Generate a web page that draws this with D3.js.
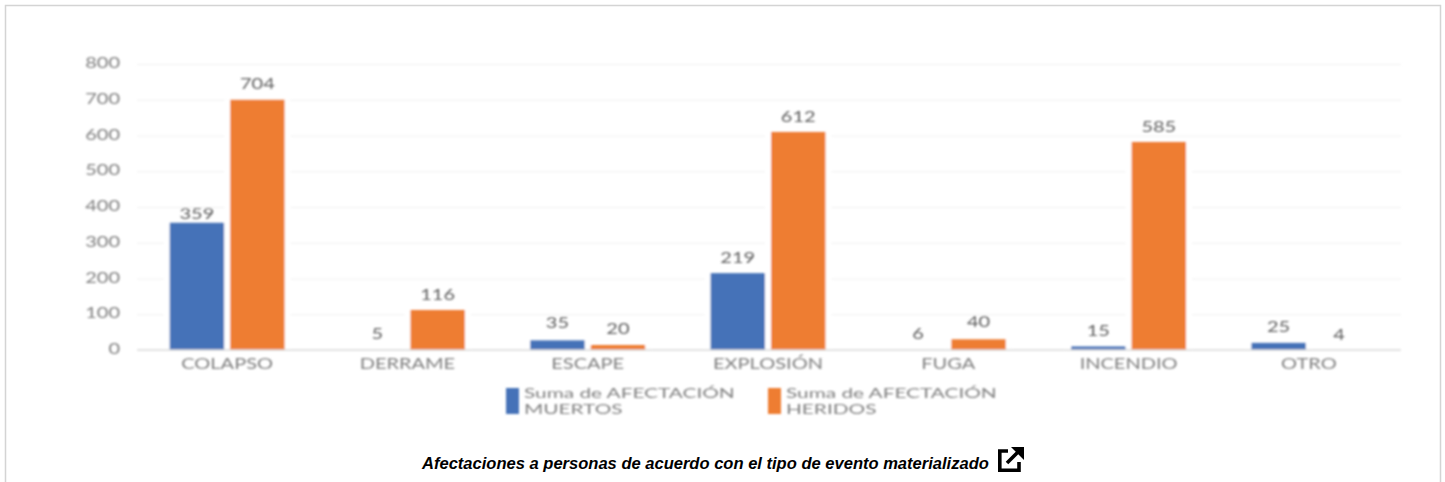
<!DOCTYPE html>
<html>
<head>
<meta charset="utf-8">
<script src="https://cdnjs.cloudflare.com/ajax/libs/d3/7.8.5/d3.min.js"></script>
<style>
  html, body { margin: 0; padding: 0; background: #fff; overflow: hidden; }
  svg { display: block; }
  .chart text { font-family: Lato, "Open Sans", sans-serif; }
  .caption { font: italic bold 16.55px "Liberation Sans", Arial, sans-serif; fill: #000; }
</style>
</head>
<body>
<svg class="frame" width="1445" height="482"></svg>
<script>
const categories = ["COLAPSO", "DERRAME", "ESCAPE", "EXPLOSIÓN", "FUGA", "INCENDIO", "OTRO"];
// printed labels
const muertos = [359, 5, 35, 219, 6, 15, 25];
const heridos = [704, 116, 20, 612, 40, 585, 4];
// bar heights as drawn in the picture, which sit a little under the labels
const muertosBars = [356, 0, 27, 215, 0, 10, 20];
const heridosBars = [700, 112, 14, 610, 30, 582, 0];
const yTicks = [0, 100, 200, 300, 400, 500, 600, 700, 800];
const seriesNames = ["muertos", "heridos"];
const seriesLabels = {muertos: muertos, heridos: heridos};
const seriesBars = {muertos: muertosBars, heridos: heridosBars};
const seriesColors = {muertos: "#4472b8", heridos: "#ee7d31"};
const legendLines = {
    muertos: ["Suma de AFECTACIÓN", "MUERTOS"],
    heridos: ["Suma de AFECTACIÓN", "HERIDOS"]
};
const captionText = "Afectaciones a personas de acuerdo con el tipo de evento materializado";

const width = 1445;
const height = 482;
const margin = {top: 64, right: 44, bottom: 132, left: 137};
const stretch = 1.38;   // the source text is squeezed wide
const fontSize = "14.5px";

const svg = d3.select("svg.frame");

// page frame, open at the bottom
svg.append("path")
    .attr("d", `M5.5,${height} V5.5 H1440.5 V${height}`)
    .attr("fill", "none")
    .attr("stroke", "#d4d4d4")
    .attr("stroke-width", 1.5);

// the source is a soft, upscaled picture
svg.append("defs").append("filter")
    .attr("id", "soft")
    .attr("x", "-2%").attr("y", "-2%").attr("width", "104%").attr("height", "104%")
    .append("feGaussianBlur")
    .attr("stdDeviation", 0.8);

const chart = svg.append("g").attr("class", "chart").attr("filter", "url(#soft)");

const x0 = d3.scaleBand()
    .domain(categories)
    .range([margin.left, 1399]);

const x1 = d3.scaleBand()
    .domain(seriesNames)
    .range([0, x0.bandwidth()])
    .paddingInner(0.1)
    .paddingOuter(0.54);

const y = d3.scaleLinear()
    .domain([0, 800])
    .range([height - margin.bottom, margin.top]);

// gridlines
chart.append("g")
    .attr("transform", `translate(${margin.left},0)`)
    .call(d3.axisLeft(y).tickValues(yTicks.slice(1)).tickSize(-(width - margin.left - margin.right)).tickFormat(""))
    .call(g => g.select(".domain").remove())
    .call(g => g.selectAll("line").attr("stroke", "#f0f0f0"));

// y axis labels
chart.append("g")
    .attr("transform", `translate(${margin.left},0)`)
    .call(d3.axisLeft(y).tickValues(yTicks).tickSize(0))
    .call(g => g.select(".domain").remove())
    .call(g => g.selectAll("text")
        .attr("fill", "#7f7f7f")
        .attr("x", 0)
        .attr("dy", "0.25em")
        .attr("transform", `translate(-17,0) scale(${stretch},1)`)
        .style("font-size", fontSize));

const rows = seriesNames.flatMap(s => categories.map((c, i) => ({
    series: s,
    category: c,
    bar: seriesBars[s][i],
    label: seriesLabels[s][i]
})));
const barX = d => x0(d.category) + x1(d.series);

// white halo that breaks the gridlines around each bar
chart.append("g")
    .selectAll("rect")
    .data(rows.filter(d => d.bar > 0))
    .enter().append("rect")
        .attr("x", d => barX(d) - 6)
        .attr("y", d => y(d.bar))
        .attr("width", x1.bandwidth() + 12)
        .attr("height", d => y(0) - y(d.bar))
        .attr("fill", "#fff");

chart.append("g")
    .selectAll("rect")
    .data(rows)
    .enter().append("rect")
        .attr("x", barX)
        .attr("y", d => y(d.bar))
        .attr("width", x1.bandwidth())
        .attr("height", d => y(0) - y(d.bar))
        .attr("fill", d => seriesColors[d.series]);

// data labels, placed from the printed value
chart.append("g")
    .attr("text-anchor", "middle")
    .selectAll("text")
    .data(rows)
    .enter().append("text")
        .attr("transform", d => {
            const lift = d.label === 359 ? 3 : 9;
            return `translate(${barX(d) + x1.bandwidth() / 2},${y(d.label) - lift}) scale(${stretch},1)`;
        })
        .attr("fill", "#5f5f5f")
        .style("font-size", fontSize)
        .text(d => d.label);

// x axis
chart.append("g")
    .attr("transform", `translate(0,${y(0)})`)
    .call(d3.axisBottom(x0).tickSize(0).tickPadding(9))
    .call(g => g.select(".domain").attr("d", `M${margin.left},0H${width - margin.right}`).attr("stroke", "#d9d9d9").attr("stroke-width", 1.5))
    .call(g => g.selectAll("text")
        .attr("fill", "#7f7f7f")
        .attr("transform", `scale(${stretch},1)`)
        .style("font-size", fontSize));

// legend
const legendX = d3.scaleOrdinal().domain(seriesNames).range([506, 768]);
const legend = chart.append("g")
    .selectAll("g")
    .data(seriesNames)
    .enter().append("g")
        .attr("transform", d => `translate(${legendX(d)},388)`);

legend.append("rect")
    .attr("width", 13)
    .attr("height", 26)
    .attr("fill", d => seriesColors[d]);

legend.selectAll("text")
    .data(d => legendLines[d])
    .enter().append("text")
        .attr("transform", (d, i) => `translate(18,${10 + i * 15.5}) scale(1.6,1)`)
        .attr("fill", "#7f7f7f")
        .style("font-size", "13px")
        .text(d => d);

// caption and link icon
svg.append("text")
    .attr("class", "caption")
    .attr("x", 422)
    .attr("y", 469)
    .text(captionText);

const icon = svg.append("g")
    .attr("transform", "translate(998,447)");
icon.append("path")
    .attr("d", "M10,4 H1.8 V23.2 H21 V15 M9,16 L20,5")
    .attr("fill", "none")
    .attr("stroke", "#000")
    .attr("stroke-width", 3.6);
icon.append("path")
    .attr("d", "M13,0 H26 V13 Z")
    .attr("fill", "#000");
</script>
</body>
</html>
